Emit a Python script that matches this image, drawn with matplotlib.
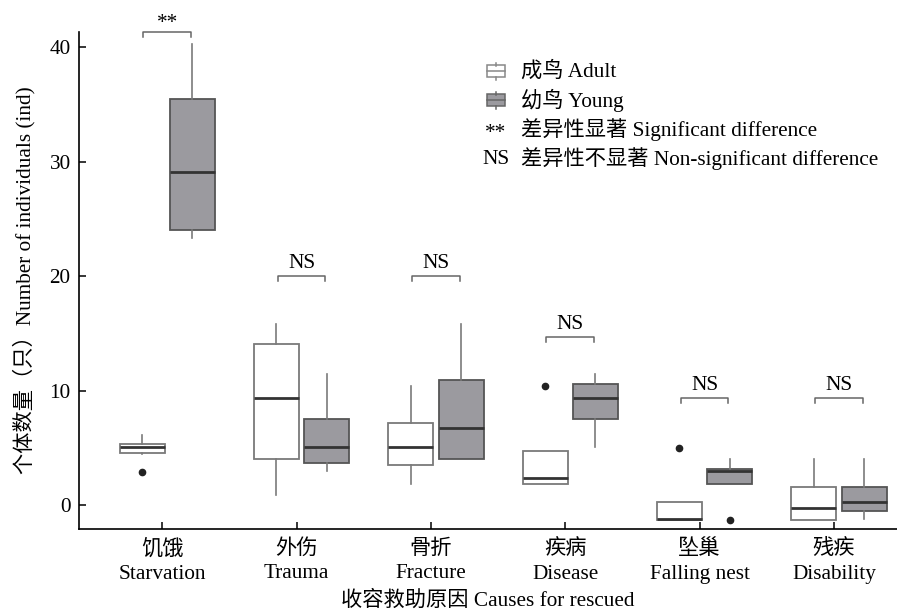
import matplotlib
matplotlib.use('Agg')
import matplotlib.pyplot as plt
from matplotlib.patches import Rectangle
from matplotlib.lines import Line2D

plt.rcParams['font.family'] = ['Liberation Serif', 'Noto Sans CJK SC']
plt.rcParams['font.size'] = 15.3

causes_cn = ['饥饿', '外伤', '骨折', '疾病', '坠巢', '残疾']
causes_en = ['Starvation', 'Trauma', 'Fracture', 'Disease', 'Falling nest', 'Disability']

# (whislo, q1, med, q3, whishi)
adult_stats = [
    (4.5, 4.55, 5.05, 5.3, 6.15),
    (0.9, 4.0, 9.35, 14.1, 15.8),
    (1.85, 3.5, 5.05, 7.2, 10.45),
    (1.8, 1.8, 2.4, 4.75, 4.75),
    (-1.3, -1.3, -1.25, 0.25, 0.25),
    (-1.3, -1.3, -0.25, 1.6, 4.0),
]
adult_fliers = [[2.9], [], [], [10.4], [5.0], []]

young_stats = [
    (23.3, 24.0, 29.1, 35.45, 40.3),
    (2.95, 3.7, 5.05, 7.5, 11.45),
    (4.0, 4.0, 6.7, 10.9, 15.8),
    (5.1, 7.5, 9.35, 10.6, 11.45),
    (1.8, 1.8, 2.95, 3.15, 4.0),
    (-1.2, -0.55, 0.3, 1.6, 4.0),
]
young_fliers = [[], [], [], [], [-1.3], []]

sig_labels = ['**', 'NS', 'NS', 'NS', 'NS', 'NS']
sig_heights = [41.35, 20.05, 20.05, 14.7, 9.35, 9.35]

adult_edge = '#7a7a7a'
young_edge = '#555555'
young_fill = '#9b9a9f'
median_col = '#333333'


def to_bxp(stats, fliers):
    out = []
    for (lo, q1, med, q3, hi), fl in zip(stats, fliers):
        out.append(dict(whislo=lo, q1=q1, med=med, q3=q3, whishi=hi, fliers=fl))
    return out


fig = plt.figure(figsize=(8.97, 6.15), dpi=100)
ax = fig.add_axes([0.088, 0.1393, 0.912, 0.8087])

n = len(causes_cn)
pos_a = [i - 0.15 for i in range(n)]
pos_y = [i + 0.225 for i in range(n)]
w = 0.335

flier_style = dict(marker='o', markerfacecolor='#222222', markeredgecolor='#222222', markersize=4.5)

ax.bxp(to_bxp(adult_stats, adult_fliers), positions=pos_a, widths=w, patch_artist=True,
       showcaps=False,
       boxprops=dict(facecolor='white', edgecolor=adult_edge, linewidth=1.3),
       whiskerprops=dict(color=adult_edge, linewidth=1.2),
       medianprops=dict(color=median_col, linewidth=2),
       flierprops=flier_style)
ax.bxp(to_bxp(young_stats, young_fliers), positions=pos_y, widths=w, patch_artist=True,
       showcaps=False,
       boxprops=dict(facecolor=young_fill, edgecolor=young_edge, linewidth=1.3),
       whiskerprops=dict(color=adult_edge, linewidth=1.2),
       medianprops=dict(color=median_col, linewidth=2),
       flierprops=flier_style)

# significance brackets
for i, (lab, h) in enumerate(zip(sig_labels, sig_heights)):
    x0, x1 = pos_a[i] + 0.01, pos_y[i] - 0.01
    ax.plot([x0, x0, x1, x1], [h - 0.45, h, h, h - 0.45], color='#666666', lw=1.1,
            clip_on=False)
    dy = 0.75 if lab == '**' else 1.1
    ax.text((x0 + x1) / 2, h + dy, lab, ha='center', va='center')

ax.set_xlim(-0.62, 5.47)
ax.set_ylim(-2.12, 41.35)
ax.set_yticks([0, 10, 20, 30, 40])
ax.set_xticks(range(n))
ax.set_xticklabels([c + '\n' + e for c, e in zip(causes_cn, causes_en)], linespacing=1.4)
ax.tick_params(direction='in', length=5, width=1.1, pad=6, labelsize=15.3)
ax.tick_params(axis='x', pad=7)
ax.spines['top'].set_visible(False)
ax.spines['right'].set_visible(False)
for s in ['left', 'bottom']:
    ax.spines[s].set_linewidth(1.2)

ax.set_xlabel('收容救助原因 Causes for rescued', labelpad=5)
ax.set_ylabel('个体数量（只）Number of individuals (ind)', labelpad=10)


# legend drawn by hand in figure pixels
def fx(px):
    return px / 897


def fy(py):
    return 1 - py / 615


def legend_box(cx, cy, face, edge):
    bw, bh = 18, 11
    fig.add_artist(Rectangle((fx(cx - bw / 2), fy(cy + bh / 2)), bw / 897, bh / 615,
                             facecolor=face, edgecolor=edge, lw=1.1, transform=fig.transFigure))
    fig.add_artist(Line2D([fx(cx - bw / 2), fx(cx + bw / 2)], [fy(cy), fy(cy)],
                          color=edge, lw=1.1, transform=fig.transFigure))
    fig.add_artist(Line2D([fx(cx), fx(cx)], [fy(cy - bh / 2), fy(cy - bh / 2 - 3)],
                          color=edge, lw=1.1, transform=fig.transFigure))
    fig.add_artist(Line2D([fx(cx), fx(cx)], [fy(cy + bh / 2), fy(cy + bh / 2 + 3)],
                          color=edge, lw=1.1, transform=fig.transFigure))


legend_box(496, 71, 'white', '#888888')
legend_box(496, 100, young_fill, '#666666')
fig.text(fx(496), fy(133), '**', ha='center', va='center')
fig.text(fx(496), fy(159), 'NS', ha='center', va='center')
legend_texts = ['成鸟 Adult', '幼鸟 Young', '差异性显著 Significant difference',
                '差异性不显著 Non-significant difference']
for t, py in zip(legend_texts, [71, 100, 130, 159]):
    fig.text(fx(521), fy(py), t, ha='left', va='center')

fig.savefig('out.png', dpi=100)
